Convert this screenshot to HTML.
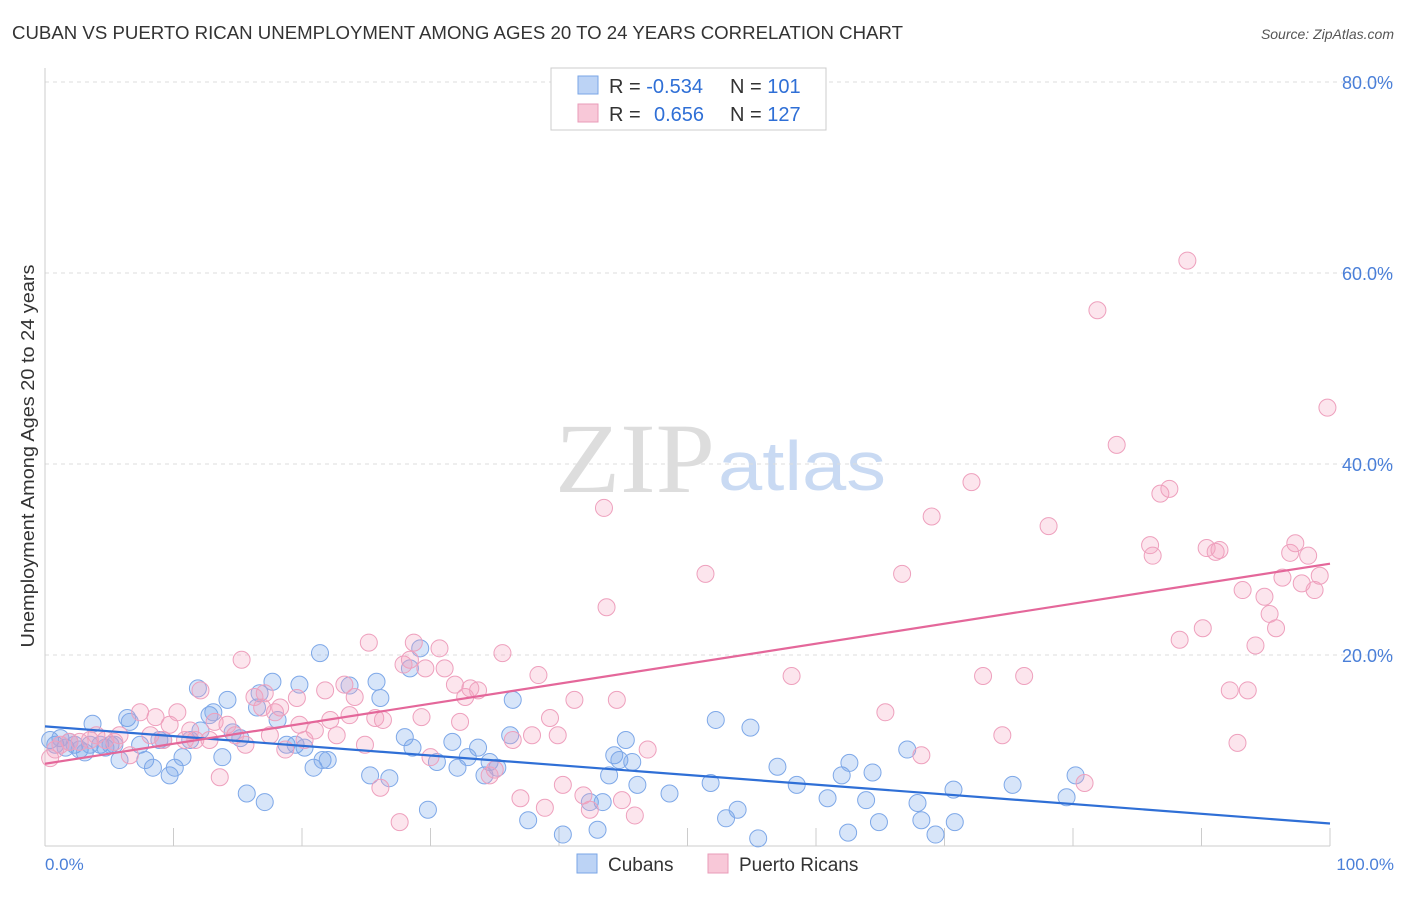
<!DOCTYPE html>
<html><head><meta charset="utf-8"><style>
body{margin:0;background:#fff;font-family:"Liberation Sans",sans-serif;}
</style></head><body>
<svg width="1406" height="892" viewBox="0 0 1406 892" xmlns="http://www.w3.org/2000/svg" id="chart">
<text x="12" y="39" font-size="18" fill="#333" textLength="891" lengthAdjust="spacingAndGlyphs">CUBAN VS PUERTO RICAN UNEMPLOYMENT AMONG AGES 20 TO 24 YEARS CORRELATION CHART</text>
<text x="1394" y="39" font-size="14" fill="#555" font-style="italic" text-anchor="end">Source: ZipAtlas.com</text>
<text x="555" y="492" font-size="100" fill="#ddd" font-family="Liberation Serif,serif" textLength="160" lengthAdjust="spacingAndGlyphs">ZIP</text>
<text x="718" y="490" font-size="70" fill="#c9daf3" textLength="168" lengthAdjust="spacingAndGlyphs">atlas</text>
<g id="grid"></g>
<line x1="45" y1="68" x2="45" y2="846" stroke="#ccc"/>
<line x1="45" y1="846" x2="1330" y2="846" stroke="#ccc"/>
<text x="34" y="456" font-size="18" fill="#333" transform="rotate(-90 34 456)" text-anchor="middle" textLength="383" lengthAdjust="spacingAndGlyphs">Unemployment Among Ages 20 to 24 years</text>
<text x="45" y="870" font-size="17" fill="#4a7fd8">0.0%</text>
<text x="1394" y="870" font-size="17" fill="#4a7fd8" text-anchor="end">100.0%</text>
<g id="points"></g>
<g id="trends"></g>
<g>
<rect x="551" y="68" width="275" height="62" fill="#fff" stroke="#ccc"/>
<rect x="578" y="76" width="20" height="18" fill="#bcd3f5" stroke="#7aa6e6"/>
<rect x="578" y="104" width="20" height="18" fill="#f8c8d8" stroke="#e99bb8"/>
<text x="609" y="93" font-size="20" fill="#333">R = <tspan fill="#2f6fd6">-0.534</tspan><tspan x="730">N = </tspan><tspan fill="#2f6fd6">101</tspan></text>
<text x="609" y="121" font-size="20" fill="#333">R = <tspan x="654" fill="#2f6fd6">0.656</tspan><tspan x="730">N = </tspan><tspan fill="#2f6fd6">127</tspan></text>
</g>
<g>
<rect x="577" y="854" width="20" height="19" fill="#bcd3f5" stroke="#7aa6e6"/>
<text x="608" y="871" font-size="19" fill="#333">Cubans</text>
<rect x="708" y="854" width="20" height="19" fill="#f8c8d8" stroke="#e99bb8"/>
<text x="739" y="871" font-size="19" fill="#333">Puerto Ricans</text>
</g>
</svg>
<script>
const yTicks=[20,40,60,80];
const yTickLabels=["20.0%","40.0%","60.0%","80.0%"];
const xTicks=[0,10,20,30,40,50,60,70,80,90,100];
const cubanX=[0.4,0.8,1.2,1.6,1.9,2.3,2.7,3.1,3.5,3.7,4.3,4.7,5.1,5.4,5.8,6.4,6.6,7.4,7.8,8.4,8.9,9.2,9.7,10.1,10.7,11.3,11.9,12.1,12.8,13.1,13.8,14.2,14.6,15.2,15.7,16.5,16.7,17.1,17.7,18.1,18.8,19.5,19.8,20.2,20.9,21.4,21.6,22.0,23.7,25.3,25.8,26.1,26.8,28.0,28.4,28.6,29.2,29.8,30.5,31.7,32.1,32.9,33.7,34.2,34.6,35.2,36.2,36.4,37.6,40.3,42.4,43.0,43.4,43.9,44.3,44.7,45.2,45.7,46.1,48.6,51.8,52.2,53.0,53.9,54.9,55.5,57.0,58.5,60.9,62.0,62.5,62.6,63.9,64.4,64.9,67.1,67.9,68.2,69.3,70.7,70.8,75.3,79.5,80.2];
const cubanY=[11.1,10.6,11.3,10.3,10.9,10.6,10.1,9.8,10.6,12.8,10.6,10.3,10.6,10.6,9.0,13.4,13.0,10.6,9.0,8.2,11.1,11.1,7.4,8.2,9.3,11.1,16.5,12.1,13.7,14.0,9.3,15.3,11.9,11.3,5.5,14.5,16.0,4.6,17.2,13.2,10.6,10.6,16.9,10.3,8.2,20.2,9.0,9.0,16.8,7.4,17.2,15.5,7.1,11.4,18.6,10.3,20.7,3.8,8.8,10.9,8.2,9.3,10.3,7.4,8.8,8.2,11.6,15.3,2.7,1.2,4.6,1.7,4.6,7.4,9.5,9.0,11.1,8.8,6.4,5.5,6.6,13.2,2.9,3.8,12.4,0.8,8.3,6.4,5.0,7.4,1.4,8.7,4.8,7.7,2.5,10.1,4.5,2.7,1.2,5.9,2.5,6.4,5.1,7.4];
const prX=[0.4,0.8,1.2,1.9,2.7,3.5,4.0,4.7,5.4,5.8,6.6,7.4,8.2,8.6,9.2,9.7,10.3,10.9,11.3,11.7,12.1,12.8,13.2,13.6,14.2,14.8,15.3,15.6,16.3,16.9,17.1,17.5,17.9,18.3,18.7,19.6,19.8,20.2,21.0,21.8,22.2,22.7,23.3,23.7,24.1,24.9,25.2,25.7,26.1,26.3,27.6,27.9,28.4,28.7,29.3,29.6,30.0,30.7,31.1,31.9,32.3,32.7,33.1,33.7,34.6,35.0,35.6,36.4,37.0,37.9,38.4,38.9,39.3,39.9,40.3,41.2,41.9,42.4,43.5,43.7,44.5,44.9,45.9,46.9,51.4,58.1,65.4,66.7,68.2,69.0,72.1,73.0,74.5,76.2,78.1,80.9,81.9,83.4,86.0,86.2,86.8,87.5,88.3,88.9,90.1,90.4,91.1,91.4,92.2,92.8,93.2,93.6,94.2,94.9,95.3,95.8,96.3,96.9,97.3,97.8,98.3,98.8,99.2,99.8];
const prY=[9.2,10.1,10.6,10.9,10.9,11.1,11.6,11.1,10.9,11.6,9.5,14.0,11.6,13.5,11.1,12.7,14.0,11.1,12.1,11.1,16.3,11.1,13.0,7.2,12.7,11.6,19.5,10.6,15.6,14.5,16.0,11.6,14.0,14.5,10.1,15.5,12.7,11.1,12.1,16.3,13.2,11.6,16.9,13.7,15.6,10.6,21.3,13.4,6.1,13.2,2.5,19.0,19.5,21.3,13.5,18.6,9.3,20.7,18.6,16.9,13.0,15.6,16.5,16.3,7.4,8.0,20.2,11.1,5.0,11.6,17.9,4.0,13.4,11.6,6.4,15.3,5.3,3.8,35.4,25.0,15.3,4.8,3.2,10.1,28.5,17.8,14.0,28.5,9.5,34.5,38.1,17.8,11.6,17.8,33.5,6.6,56.1,42.0,31.5,30.4,36.9,37.4,21.6,61.3,22.8,31.2,30.8,31.0,16.3,10.8,26.8,16.3,21.0,26.1,24.3,22.8,28.1,30.7,31.7,27.5,30.4,26.8,28.3,45.9];

const NS="http://www.w3.org/2000/svg";
const sx=v=>45+v*12.85;
const sy=v=>846-v*9.55;
function mk(tag,attrs,parent){const e=document.createElementNS(NS,tag);for(const k in attrs)e.setAttribute(k,attrs[k]);parent.appendChild(e);return e;}
const grid=document.getElementById('grid');
yTicks.forEach((t,i)=>{
  const l=mk('line',{x1:45,x2:1394,y1:sy(t),y2:sy(t),stroke:'#ddd','stroke-dasharray':'4,4'},grid);
  
  
  const tx=mk('text',{x:1393,y:sy(t)+7,'font-size':18,fill:'#4a7fd8','text-anchor':'end'},grid);
  tx.textContent=yTickLabels[i];
  
  
});
xTicks.forEach(t=>{
  const l=mk('line',{x1:sx(t),x2:sx(t),y1:828,y2:846,stroke:'#ccc'},grid);
  
  
});
const pts=document.getElementById('points');
function drawPts(X,Y,fill,stroke,name){
  X.forEach((x,i)=>{
    const c=mk('circle',{cx:sx(x),cy:sy(Y[i]),r:8.5,fill:fill,stroke:stroke,'stroke-width':1},pts);
    
    
  });
}
drawPts(cubanX,cubanY,'rgba(110,160,235,0.28)','#7ea8e8','cuban-point');
drawPts(prX,prY,'rgba(245,160,190,0.28)','#eea0bd','puerto-rican-point');
function reg(X,Y){const n=X.length;let mx=0,my=0;for(let i=0;i<n;i++){mx+=X[i];my+=Y[i];}mx/=n;my/=n;let sxy=0,sxx=0;for(let i=0;i<n;i++){sxy+=(X[i]-mx)*(Y[i]-my);sxx+=(X[i]-mx)**2;}const b=sxy/sxx;return[my-b*mx,b];}
const tr=document.getElementById('trends');
[[cubanX,cubanY,'#2f6fd6','cuban-trend-line'],[prX,prY,'#e4679a','puerto-rican-trend-line']].forEach(([X,Y,col,name])=>{
  const [a,b]=reg(X,Y);
  const l=mk('line',{x1:sx(0),y1:sy(a),x2:sx(100),y2:sy(a+100*b),stroke:col,'stroke-width':2.2},tr);
  
  
});
</script>
</body></html>
